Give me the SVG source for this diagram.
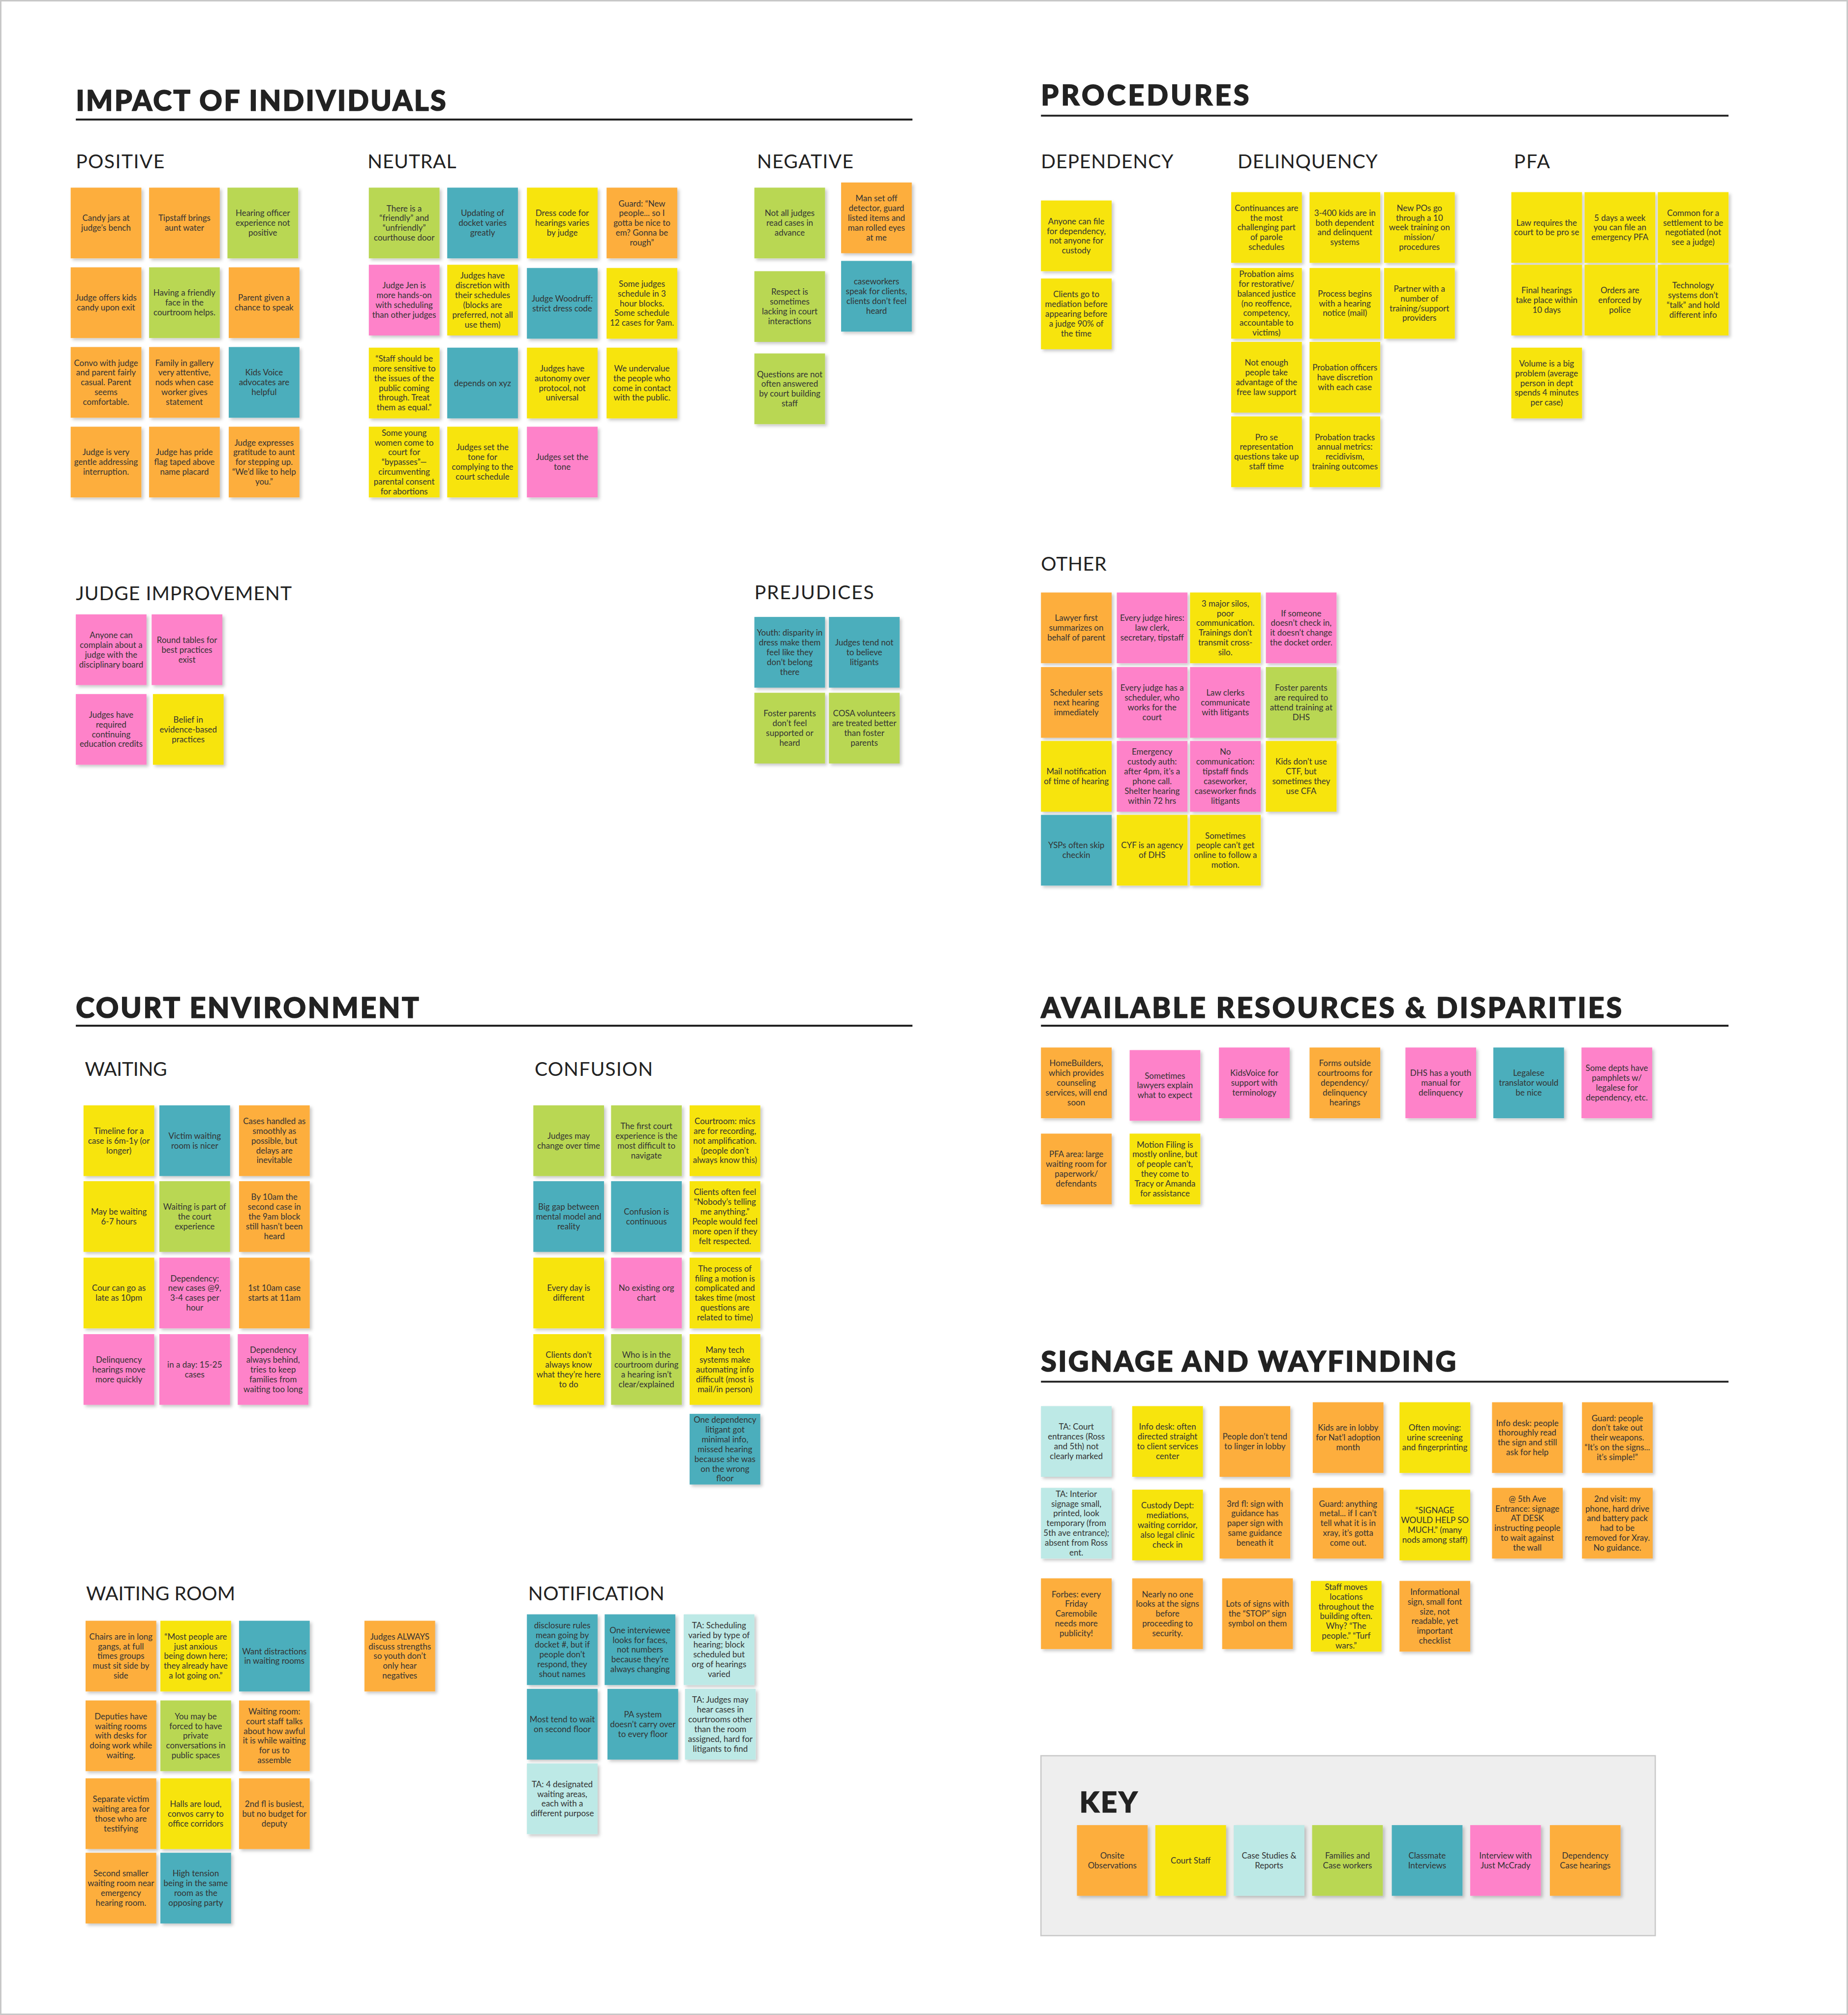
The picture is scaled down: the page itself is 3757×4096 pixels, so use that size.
<svg xmlns="http://www.w3.org/2000/svg" width="3757" height="4096" viewBox="0 0 3757 4096">
<defs>
<style>
.n{filter:url(#sh)}
.O{fill:#FDAE3E}.Y{fill:#F7E40A}.G{fill:#B9D752}.T{fill:#4BAEBC}.P{fill:#FE82C9}.C{fill:#BDE9E6}
.t{font-family:Lato,"Open Sans",sans-serif;font-size:6.5px;fill:#333;text-anchor:middle}
.h{font-family:Lato,sans-serif;font-weight:900;font-size:22px;fill:#222;stroke:#222;stroke-width:0.6}
.s{font-family:Lato,sans-serif;font-size:15px;fill:#222}
.u{stroke:#222;stroke-width:1.5}
</style>
<filter id="sh" x="-10%" y="-10%" width="130%" height="130%"><feDropShadow dx="1.5" dy="1.5" stdDeviation="1.2" flood-color="#000" flood-opacity="0.22"/></filter>
</defs>
<rect x="0" y="0" width="3757" height="4096" fill="#fff"/>
<rect x="1.5" y="1.5" width="3754" height="4093" fill="none" stroke="#c8c8c8" stroke-width="3"/>
<g transform="scale(2.6127)">
<g id="headings">
<text class="h" x="59" y="86" textLength="288">IMPACT OF INDIVIDUALS</text>
<line class="u" x1="59" y1="93" x2="710" y2="93"/>
<text class="h" x="810" y="82" textLength="162">PROCEDURES</text>
<line class="u" x1="810" y1="90" x2="1345" y2="90"/>
<text class="h" x="59" y="792" textLength="267">COURT ENVIRONMENT</text>
<line class="u" x1="59" y1="798" x2="710" y2="798"/>
<text class="h" x="810" y="792" textLength="452">AVAILABLE RESOURCES &amp; DISPARITIES</text>
<line class="u" x1="810" y1="798" x2="1345" y2="798"/>
<text class="h" x="810" y="1067" textLength="323">SIGNAGE AND WAYFINDING</text>
<line class="u" x1="810" y1="1075" x2="1345" y2="1075"/>
<text class="s" x="59" y="131" textLength="69">POSITIVE</text>
<text class="s" x="286" y="131" textLength="69">NEUTRAL</text>
<text class="s" x="589" y="131" textLength="75">NEGATIVE</text>
<text class="s" x="810" y="131" textLength="103">DEPENDENCY</text>
<text class="s" x="963" y="131" textLength="109">DELINQUENCY</text>
<text class="s" x="1178" y="131" textLength="28">PFA</text>
<text class="s" x="59" y="467" textLength="168">JUDGE IMPROVEMENT</text>
<text class="s" x="587" y="466" textLength="93">PREJUDICES</text>
<text class="s" x="810" y="444" textLength="51">OTHER</text>
<text class="s" x="66" y="837" textLength="64">WAITING</text>
<text class="s" x="416" y="837" textLength="92">CONFUSION</text>
<text class="s" x="67" y="1245" textLength="116">WAITING ROOM</text>
<text class="s" x="411" y="1245" textLength="106">NOTIFICATION</text>
</g>

<!-- POSITIVE -->
<g id="pos1" transform="translate(55,146)"><rect class="n O" width="55" height="55"/><text class="t"><tspan x="27.5" y="26">Candy jars at</tspan><tspan x="27.5" y="33.6">judge’s bench</tspan></text></g>
<g id="pos2" transform="translate(116,146)"><rect class="n O" width="55" height="55"/><text class="t"><tspan x="27.5" y="26">Tipstaff brings</tspan><tspan x="27.5" y="33.6">aunt water</tspan></text></g>
<g id="pos3" transform="translate(177,146)"><rect class="n G" width="55" height="55"/><text class="t"><tspan x="27.5" y="22.2">Hearing officer</tspan><tspan x="27.5" y="29.8">experience not</tspan><tspan x="27.5" y="37.4">positive</tspan></text></g>
<g id="pos4" transform="translate(55,208)"><rect class="n O" width="55" height="55"/><text class="t"><tspan x="27.5" y="26">Judge offers kids</tspan><tspan x="27.5" y="33.6">candy upon exit</tspan></text></g>
<g id="pos5" transform="translate(116,208)"><rect class="n G" width="55" height="55"/><text class="t"><tspan x="27.5" y="22.2">Having a friendly</tspan><tspan x="27.5" y="29.8">face in the</tspan><tspan x="27.5" y="37.4">courtroom helps.</tspan></text></g>
<g id="pos6" transform="translate(178,208)"><rect class="n O" width="55" height="55"/><text class="t"><tspan x="27.5" y="26">Parent given a</tspan><tspan x="27.5" y="33.6">chance to speak</tspan></text></g>
<g id="pos7" transform="translate(55,270)"><rect class="n O" width="55" height="55"/><text class="t"><tspan x="27.5" y="14.6">Convo with judge</tspan><tspan x="27.5" y="22.2">and parent fairly</tspan><tspan x="27.5" y="29.8">casual. Parent</tspan><tspan x="27.5" y="37.4">seems</tspan><tspan x="27.5" y="45">comfortable.</tspan></text></g>
<g id="pos8" transform="translate(116,270)"><rect class="n O" width="55" height="55"/><text class="t"><tspan x="27.5" y="14.6">Family in gallery</tspan><tspan x="27.5" y="22.2">very attentive,</tspan><tspan x="27.5" y="29.8">nods when case</tspan><tspan x="27.5" y="37.4">worker gives</tspan><tspan x="27.5" y="45">statement</tspan></text></g>
<g id="pos9" transform="translate(178,270)"><rect class="n T" width="55" height="55"/><text class="t"><tspan x="27.5" y="22.2">Kids Voice</tspan><tspan x="27.5" y="29.8">advocates are</tspan><tspan x="27.5" y="37.4">helpful</tspan></text></g>
<g id="pos10" transform="translate(55,332)"><rect class="n O" width="55" height="55"/><text class="t"><tspan x="27.5" y="22.2">Judge is very</tspan><tspan x="27.5" y="29.8">gentle addressing</tspan><tspan x="27.5" y="37.4">interruption.</tspan></text></g>
<g id="pos11" transform="translate(116,332)"><rect class="n O" width="55" height="55"/><text class="t"><tspan x="27.5" y="22.2">Judge has pride</tspan><tspan x="27.5" y="29.8">flag taped above</tspan><tspan x="27.5" y="37.4">name placard</tspan></text></g>
<g id="pos12" transform="translate(178,332)"><rect class="n O" width="55" height="55"/><text class="t"><tspan x="27.5" y="14.6">Judge expresses</tspan><tspan x="27.5" y="22.2">gratitude to aunt</tspan><tspan x="27.5" y="29.8">for stepping up.</tspan><tspan x="27.5" y="37.4">“We’d like to help</tspan><tspan x="27.5" y="45">you.”</tspan></text></g>

<!-- NEUTRAL -->
<g id="neu1" transform="translate(287,146)"><rect class="n G" width="55" height="55"/><text class="t"><tspan x="27.5" y="18.4">There is a</tspan><tspan x="27.5" y="26">“friendly” and</tspan><tspan x="27.5" y="33.6">“unfriendly”</tspan><tspan x="27.5" y="41.2">courthouse door</tspan></text></g>
<g id="neu2" transform="translate(348,146)"><rect class="n T" width="55" height="55"/><text class="t"><tspan x="27.5" y="22.2">Updating of</tspan><tspan x="27.5" y="29.8">docket varies</tspan><tspan x="27.5" y="37.4">greatly</tspan></text></g>
<g id="neu3" transform="translate(410,146)"><rect class="n Y" width="55" height="55"/><text class="t"><tspan x="27.5" y="22.2">Dress code for</tspan><tspan x="27.5" y="29.8">hearings varies</tspan><tspan x="27.5" y="37.4">by judge</tspan></text></g>
<g id="neu4" transform="translate(472,146)"><rect class="n O" width="55" height="55"/><text class="t"><tspan x="27.5" y="14.6">Guard: “New</tspan><tspan x="27.5" y="22.2">people... so I</tspan><tspan x="27.5" y="29.8">gotta be nice to</tspan><tspan x="27.5" y="37.4">em? Gonna be</tspan><tspan x="27.5" y="45">rough”</tspan></text></g>
<g id="neu5" transform="translate(287,206)"><rect class="n P" width="55" height="55"/><text class="t"><tspan x="27.5" y="18.4">Judge Jen is</tspan><tspan x="27.5" y="26">more hands-on</tspan><tspan x="27.5" y="33.6">with scheduling</tspan><tspan x="27.5" y="41.2">than other judges</tspan></text></g>
<g id="neu6" transform="translate(348,206)"><rect class="n Y" width="55" height="55"/><text class="t"><tspan x="27.5" y="10.8">Judges have</tspan><tspan x="27.5" y="18.4">discretion with</tspan><tspan x="27.5" y="26">their schedules</tspan><tspan x="27.5" y="33.6">(blocks are</tspan><tspan x="27.5" y="41.2">preferred, not all</tspan><tspan x="27.5" y="48.8">use them)</tspan></text></g>
<g id="neu7" transform="translate(410,208.5)"><rect class="n T" width="55" height="55"/><text class="t"><tspan x="27.5" y="26">Judge Woodruff:</tspan><tspan x="27.5" y="33.6">strict dress code</tspan></text></g>
<g id="neu8" transform="translate(472,208.5)"><rect class="n Y" width="55" height="55"/><text class="t"><tspan x="27.5" y="14.6">Some judges</tspan><tspan x="27.5" y="22.2">schedule in 3</tspan><tspan x="27.5" y="29.8">hour blocks.</tspan><tspan x="27.5" y="37.4">Some schedule</tspan><tspan x="27.5" y="45">12 cases for 9am.</tspan></text></g>
<g id="neu9" transform="translate(287,270.5)"><rect class="n Y" width="55" height="55"/><text class="t"><tspan x="27.5" y="10.8">“Staff should be</tspan><tspan x="27.5" y="18.4">more sensitive to</tspan><tspan x="27.5" y="26">the issues of the</tspan><tspan x="27.5" y="33.6">public coming</tspan><tspan x="27.5" y="41.2">through. Treat</tspan><tspan x="27.5" y="48.8">them as equal.”</tspan></text></g>
<g id="neu10" transform="translate(348,270.5)"><rect class="n T" width="55" height="55"/><text class="t"><tspan x="27.5" y="29.8">depends on xyz</tspan></text></g>
<g id="neu11" transform="translate(410,270.5)"><rect class="n Y" width="55" height="55"/><text class="t"><tspan x="27.5" y="18.4">Judges have</tspan><tspan x="27.5" y="26">autonomy over</tspan><tspan x="27.5" y="33.6">protocol, not</tspan><tspan x="27.5" y="41.2">universal</tspan></text></g>
<g id="neu12" transform="translate(472,270.5)"><rect class="n Y" width="55" height="55"/><text class="t"><tspan x="27.5" y="18.4">We undervalue</tspan><tspan x="27.5" y="26">the people who</tspan><tspan x="27.5" y="33.6">come in contact</tspan><tspan x="27.5" y="41.2">with the public.</tspan></text></g>
<g id="neu13" transform="translate(287,332)"><rect class="n Y" width="55" height="55"/><text class="t"><tspan x="27.5" y="7">Some young</tspan><tspan x="27.5" y="14.6">women come to</tspan><tspan x="27.5" y="22.2">court for</tspan><tspan x="27.5" y="29.8">“bypasses”—</tspan><tspan x="27.5" y="37.4">circumventing</tspan><tspan x="27.5" y="45">parental consent</tspan><tspan x="27.5" y="52.6">for abortions</tspan></text></g>
<g id="neu14" transform="translate(348,332)"><rect class="n Y" width="55" height="55"/><text class="t"><tspan x="27.5" y="18.4">Judges set the</tspan><tspan x="27.5" y="26">tone for</tspan><tspan x="27.5" y="33.6">complying to the</tspan><tspan x="27.5" y="41.2">court schedule</tspan></text></g>
<g id="neu15" transform="translate(410,332)"><rect class="n P" width="55" height="55"/><text class="t"><tspan x="27.5" y="26">Judges set the</tspan><tspan x="27.5" y="33.6">tone</tspan></text></g>

<!-- NEGATIVE -->
<g id="neg1" transform="translate(587,146)"><rect class="n G" width="55" height="55"/><text class="t"><tspan x="27.5" y="22.2">Not all judges</tspan><tspan x="27.5" y="29.8">read cases in</tspan><tspan x="27.5" y="37.4">advance</tspan></text></g>
<g id="neg2" transform="translate(587,211)"><rect class="n G" width="55" height="55"/><text class="t"><tspan x="27.5" y="18.4">Respect is</tspan><tspan x="27.5" y="26">sometimes</tspan><tspan x="27.5" y="33.6">lacking in court</tspan><tspan x="27.5" y="41.2">interactions</tspan></text></g>
<g id="neg3" transform="translate(587,275)"><rect class="n G" width="55" height="55"/><text class="t"><tspan x="27.5" y="18.4">Questions are not</tspan><tspan x="27.5" y="26">often answered</tspan><tspan x="27.5" y="33.6">by court building</tspan><tspan x="27.5" y="41.2">staff</tspan></text></g>
<g id="neg4" transform="translate(654.5,142)"><rect class="n O" width="55" height="55"/><text class="t"><tspan x="27.5" y="14.6">Man set off</tspan><tspan x="27.5" y="22.2">detector, guard</tspan><tspan x="27.5" y="29.8">listed items and</tspan><tspan x="27.5" y="37.4">man rolled eyes</tspan><tspan x="27.5" y="45">at me</tspan></text></g>
<g id="neg5" transform="translate(654.5,203)"><rect class="n T" width="55" height="55"/><text class="t"><tspan x="27.5" y="18.4">caseworkers</tspan><tspan x="27.5" y="26">speak for clients,</tspan><tspan x="27.5" y="33.6">clients don’t feel</tspan><tspan x="27.5" y="41.2">heard</tspan></text></g>

<!-- JUDGE IMPROVEMENT -->
<g id="ji1" transform="translate(59,478)"><rect class="n P" width="55" height="55"/><text class="t"><tspan x="27.5" y="18.4">Anyone can</tspan><tspan x="27.5" y="26">complain about a</tspan><tspan x="27.5" y="33.6">judge with the</tspan><tspan x="27.5" y="41.2">disciplinary board</tspan></text></g>
<g id="ji2" transform="translate(118,478)"><rect class="n P" width="55" height="55"/><text class="t"><tspan x="27.5" y="22.2">Round tables for</tspan><tspan x="27.5" y="29.8">best practices</tspan><tspan x="27.5" y="37.4">exist</tspan></text></g>
<g id="ji3" transform="translate(59,540)"><rect class="n P" width="55" height="55"/><text class="t"><tspan x="27.5" y="18.4">Judges have</tspan><tspan x="27.5" y="26">required</tspan><tspan x="27.5" y="33.6">continuing</tspan><tspan x="27.5" y="41.2">education credits</tspan></text></g>
<g id="ji4" transform="translate(119,540)"><rect class="n Y" width="55" height="55"/><text class="t"><tspan x="27.5" y="22.2">Belief in</tspan><tspan x="27.5" y="29.8">evidence-based</tspan><tspan x="27.5" y="37.4">practices</tspan></text></g>

<!-- PREJUDICES -->
<g id="pre1" transform="translate(587,480)"><rect class="n T" width="55" height="55"/><text class="t"><tspan x="27.5" y="14.6">Youth: disparity in</tspan><tspan x="27.5" y="22.2">dress make them</tspan><tspan x="27.5" y="29.8">feel like they</tspan><tspan x="27.5" y="37.4">don’t belong</tspan><tspan x="27.5" y="45">there</tspan></text></g>
<g id="pre2" transform="translate(645,480)"><rect class="n T" width="55" height="55"/><text class="t"><tspan x="27.5" y="22.2">Judges tend not</tspan><tspan x="27.5" y="29.8">to believe</tspan><tspan x="27.5" y="37.4">litigants</tspan></text></g>
<g id="pre3" transform="translate(587,539)"><rect class="n G" width="55" height="55"/><text class="t"><tspan x="27.5" y="18.4">Foster parents</tspan><tspan x="27.5" y="26">don’t feel</tspan><tspan x="27.5" y="33.6">supported or</tspan><tspan x="27.5" y="41.2">heard</tspan></text></g>
<g id="pre4" transform="translate(645,539)"><rect class="n G" width="55" height="55"/><text class="t"><tspan x="27.5" y="18.4">COSA volunteers</tspan><tspan x="27.5" y="26">are treated better</tspan><tspan x="27.5" y="33.6">than foster</tspan><tspan x="27.5" y="41.2">parents</tspan></text></g>

<!-- DEPENDENCY -->
<g id="dep1" transform="translate(810,156)"><rect class="n Y" width="55" height="55"/><text class="t"><tspan x="27.5" y="18.4">Anyone can file</tspan><tspan x="27.5" y="26">for dependency,</tspan><tspan x="27.5" y="33.6">not anyone for</tspan><tspan x="27.5" y="41.2">custody</tspan></text></g>
<g id="dep2" transform="translate(810,216.7)"><rect class="n Y" width="55" height="55"/><text class="t"><tspan x="27.5" y="14.6">Clients go to</tspan><tspan x="27.5" y="22.2">mediation before</tspan><tspan x="27.5" y="29.8">appearing before</tspan><tspan x="27.5" y="37.4">a judge 90% of</tspan><tspan x="27.5" y="45">the time</tspan></text></g>

<!-- DELINQUENCY -->
<g id="del1" transform="translate(958,149.5)"><rect class="n Y" width="55" height="55"/><text class="t"><tspan x="27.5" y="14.6">Continuances are</tspan><tspan x="27.5" y="22.2">the most</tspan><tspan x="27.5" y="29.8">challenging part</tspan><tspan x="27.5" y="37.4">of parole</tspan><tspan x="27.5" y="45">schedules</tspan></text></g>
<g id="del2" transform="translate(1019,149.5)"><rect class="n Y" width="55" height="55"/><text class="t"><tspan x="27.5" y="18.4">3-400 kids are in</tspan><tspan x="27.5" y="26">both dependent</tspan><tspan x="27.5" y="33.6">and delinquent</tspan><tspan x="27.5" y="41.2">systems</tspan></text></g>
<g id="del3" transform="translate(1077,149.5)"><rect class="n Y" width="55" height="55"/><text class="t"><tspan x="27.5" y="14.6">New POs go</tspan><tspan x="27.5" y="22.2">through a 10</tspan><tspan x="27.5" y="29.8">week training on</tspan><tspan x="27.5" y="37.4">mission/</tspan><tspan x="27.5" y="45">procedures</tspan></text></g>
<g id="del4" transform="translate(958,208.5)"><rect class="n Y" width="55" height="55"/><text class="t"><tspan x="27.5" y="7">Probation aims</tspan><tspan x="27.5" y="14.6">for restorative/</tspan><tspan x="27.5" y="22.2">balanced justice</tspan><tspan x="27.5" y="29.8">(no reoffence,</tspan><tspan x="27.5" y="37.4">competency,</tspan><tspan x="27.5" y="45">accountable to</tspan><tspan x="27.5" y="52.6">victims)</tspan></text></g>
<g id="del5" transform="translate(1019,208.5)"><rect class="n Y" width="55" height="55"/><text class="t"><tspan x="27.5" y="22.2">Process begins</tspan><tspan x="27.5" y="29.8">with a hearing</tspan><tspan x="27.5" y="37.4">notice (mail)</tspan></text></g>
<g id="del6" transform="translate(1077,208.5)"><rect class="n Y" width="55" height="55"/><text class="t"><tspan x="27.5" y="18.4">Partner with a</tspan><tspan x="27.5" y="26">number of</tspan><tspan x="27.5" y="33.6">training/support</tspan><tspan x="27.5" y="41.2">providers</tspan></text></g>
<g id="del7" transform="translate(958,266)"><rect class="n Y" width="55" height="55"/><text class="t"><tspan x="27.5" y="18.4">Not enough</tspan><tspan x="27.5" y="26">people take</tspan><tspan x="27.5" y="33.6">advantage of the</tspan><tspan x="27.5" y="41.2">free law support</tspan></text></g>
<g id="del8" transform="translate(1019,266)"><rect class="n Y" width="55" height="55"/><text class="t"><tspan x="27.5" y="22.2">Probation officers</tspan><tspan x="27.5" y="29.8">have discretion</tspan><tspan x="27.5" y="37.4">with each case</tspan></text></g>
<g id="del9" transform="translate(958,324)"><rect class="n Y" width="55" height="55"/><text class="t"><tspan x="27.5" y="18.4">Pro se</tspan><tspan x="27.5" y="26">representation</tspan><tspan x="27.5" y="33.6">questions take up</tspan><tspan x="27.5" y="41.2">staff time</tspan></text></g>
<g id="del10" transform="translate(1019,324)"><rect class="n Y" width="55" height="55"/><text class="t"><tspan x="27.5" y="18.4">Probation tracks</tspan><tspan x="27.5" y="26">annual metrics:</tspan><tspan x="27.5" y="33.6">recidivism,</tspan><tspan x="27.5" y="41.2">training outcomes</tspan></text></g>

<!-- PFA -->
<g id="pfa1" transform="translate(1176,149.5)"><rect class="n Y" width="55" height="55"/><text class="t"><tspan x="27.5" y="26">Law requires the</tspan><tspan x="27.5" y="33.6">court to be pro se</tspan></text></g>
<g id="pfa2" transform="translate(1233,149.5)"><rect class="n Y" width="55" height="55"/><text class="t"><tspan x="27.5" y="22.2">5 days a week</tspan><tspan x="27.5" y="29.8">you can file an</tspan><tspan x="27.5" y="37.4">emergency PFA</tspan></text></g>
<g id="pfa3" transform="translate(1290,149.5)"><rect class="n Y" width="55" height="55"/><text class="t"><tspan x="27.5" y="18.4">Common for a</tspan><tspan x="27.5" y="26">settlement to be</tspan><tspan x="27.5" y="33.6">negotiated (not</tspan><tspan x="27.5" y="41.2">see a judge)</tspan></text></g>
<g id="pfa4" transform="translate(1176,206)"><rect class="n Y" width="55" height="55"/><text class="t"><tspan x="27.5" y="22.2">Final hearings</tspan><tspan x="27.5" y="29.8">take place within</tspan><tspan x="27.5" y="37.4">10 days</tspan></text></g>
<g id="pfa5" transform="translate(1233,206)"><rect class="n Y" width="55" height="55"/><text class="t"><tspan x="27.5" y="22.2">Orders are</tspan><tspan x="27.5" y="29.8">enforced by</tspan><tspan x="27.5" y="37.4">police</tspan></text></g>
<g id="pfa6" transform="translate(1290,206)"><rect class="n Y" width="55" height="55"/><text class="t"><tspan x="27.5" y="18.4">Technology</tspan><tspan x="27.5" y="26">systems don’t</tspan><tspan x="27.5" y="33.6">“talk” and hold</tspan><tspan x="27.5" y="41.2">different info</tspan></text></g>
<g id="pfa7" transform="translate(1176,270.5)"><rect class="n Y" width="55" height="55"/><text class="t"><tspan x="27.5" y="14.6">Volume is a big</tspan><tspan x="27.5" y="22.2">problem (average</tspan><tspan x="27.5" y="29.8">person in dept</tspan><tspan x="27.5" y="37.4">spends 4 minutes</tspan><tspan x="27.5" y="45">per case)</tspan></text></g>

<!-- OTHER -->
<g id="oth1" transform="translate(810,461)"><rect class="n O" width="55" height="55"/><text class="t"><tspan x="27.5" y="22.2">Lawyer first</tspan><tspan x="27.5" y="29.8">summarizes on</tspan><tspan x="27.5" y="37.4">behalf of parent</tspan></text></g>
<g id="oth2" transform="translate(869,461)"><rect class="n P" width="55" height="55"/><text class="t"><tspan x="27.5" y="22.2">Every judge hires:</tspan><tspan x="27.5" y="29.8">law clerk,</tspan><tspan x="27.5" y="37.4">secretary, tipstaff</tspan></text></g>
<g id="oth3" transform="translate(926,461)"><rect class="n Y" width="55" height="55"/><text class="t"><tspan x="27.5" y="10.8">3 major silos,</tspan><tspan x="27.5" y="18.4">poor</tspan><tspan x="27.5" y="26">communication.</tspan><tspan x="27.5" y="33.6">Trainings don’t</tspan><tspan x="27.5" y="41.2">transmit cross-</tspan><tspan x="27.5" y="48.8">silo.</tspan></text></g>
<g id="oth4" transform="translate(985,461)"><rect class="n P" width="55" height="55"/><text class="t"><tspan x="27.5" y="18.4">If someone</tspan><tspan x="27.5" y="26">doesn’t check in,</tspan><tspan x="27.5" y="33.6">it doesn’t change</tspan><tspan x="27.5" y="41.2">the docket order.</tspan></text></g>
<g id="oth5" transform="translate(810,519)"><rect class="n O" width="55" height="55"/><text class="t"><tspan x="27.5" y="22.2">Scheduler sets</tspan><tspan x="27.5" y="29.8">next hearing</tspan><tspan x="27.5" y="37.4">immediately</tspan></text></g>
<g id="oth6" transform="translate(869,519)"><rect class="n P" width="55" height="55"/><text class="t"><tspan x="27.5" y="18.4">Every judge has a</tspan><tspan x="27.5" y="26">scheduler, who</tspan><tspan x="27.5" y="33.6">works for the</tspan><tspan x="27.5" y="41.2">court</tspan></text></g>
<g id="oth7" transform="translate(926,519)"><rect class="n P" width="55" height="55"/><text class="t"><tspan x="27.5" y="22.2">Law clerks</tspan><tspan x="27.5" y="29.8">communicate</tspan><tspan x="27.5" y="37.4">with litigants</tspan></text></g>
<g id="oth8" transform="translate(985,519)"><rect class="n G" width="55" height="55"/><text class="t"><tspan x="27.5" y="18.4">Foster parents</tspan><tspan x="27.5" y="26">are required to</tspan><tspan x="27.5" y="33.6">attend training at</tspan><tspan x="27.5" y="41.2">DHS</tspan></text></g>
<g id="oth9" transform="translate(810,576.5)"><rect class="n Y" width="55" height="55"/><text class="t"><tspan x="27.5" y="26">Mail notification</tspan><tspan x="27.5" y="33.6">of time of hearing</tspan></text></g>
<g id="oth10" transform="translate(869,576.5)"><rect class="n P" width="55" height="55"/><text class="t"><tspan x="27.5" y="10.8">Emergency</tspan><tspan x="27.5" y="18.4">custody auth:</tspan><tspan x="27.5" y="26">after 4pm, it’s a</tspan><tspan x="27.5" y="33.6">phone call.</tspan><tspan x="27.5" y="41.2">Shelter hearing</tspan><tspan x="27.5" y="48.8">within 72 hrs</tspan></text></g>
<g id="oth11" transform="translate(926,576.5)"><rect class="n P" width="55" height="55"/><text class="t"><tspan x="27.5" y="10.8">No</tspan><tspan x="27.5" y="18.4">communication:</tspan><tspan x="27.5" y="26">tipstaff finds</tspan><tspan x="27.5" y="33.6">caseworker,</tspan><tspan x="27.5" y="41.2">caseworker finds</tspan><tspan x="27.5" y="48.8">litigants</tspan></text></g>
<g id="oth12" transform="translate(985,576.5)"><rect class="n Y" width="55" height="55"/><text class="t"><tspan x="27.5" y="18.4">Kids don’t use</tspan><tspan x="27.5" y="26">CTF, but</tspan><tspan x="27.5" y="33.6">sometimes they</tspan><tspan x="27.5" y="41.2">use CFA</tspan></text></g>
<g id="oth13" transform="translate(810,634)"><rect class="n T" width="55" height="55"/><text class="t"><tspan x="27.5" y="26">YSPs often skip</tspan><tspan x="27.5" y="33.6">checkin</tspan></text></g>
<g id="oth14" transform="translate(869,634)"><rect class="n Y" width="55" height="55"/><text class="t"><tspan x="27.5" y="26">CYF is an agency</tspan><tspan x="27.5" y="33.6">of DHS</tspan></text></g>
<g id="oth15" transform="translate(926,634)"><rect class="n Y" width="55" height="55"/><text class="t"><tspan x="27.5" y="18.4">Sometimes</tspan><tspan x="27.5" y="26">people can’t get</tspan><tspan x="27.5" y="33.6">online to follow a</tspan><tspan x="27.5" y="41.2">motion.</tspan></text></g>

<!-- WAITING -->
<g id="wai1" transform="translate(65,860)"><rect class="n Y" width="55" height="55"/><text class="t"><tspan x="27.5" y="22.2">Timeline for a</tspan><tspan x="27.5" y="29.8">case is 6m-1y (or</tspan><tspan x="27.5" y="37.4">longer)</tspan></text></g>
<g id="wai2" transform="translate(124,860)"><rect class="n T" width="55" height="55"/><text class="t"><tspan x="27.5" y="26">Victim waiting</tspan><tspan x="27.5" y="33.6">room is nicer</tspan></text></g>
<g id="wai3" transform="translate(186,860)"><rect class="n O" width="55" height="55"/><text class="t"><tspan x="27.5" y="14.6">Cases handled as</tspan><tspan x="27.5" y="22.2">smoothly as</tspan><tspan x="27.5" y="29.8">possible, but</tspan><tspan x="27.5" y="37.4">delays are</tspan><tspan x="27.5" y="45">inevitable</tspan></text></g>
<g id="wai4" transform="translate(65,919)"><rect class="n Y" width="55" height="55"/><text class="t"><tspan x="27.5" y="26">May be waiting</tspan><tspan x="27.5" y="33.6">6-7 hours</tspan></text></g>
<g id="wai5" transform="translate(124,919)"><rect class="n G" width="55" height="55"/><text class="t"><tspan x="27.5" y="22.2">Waiting is part of</tspan><tspan x="27.5" y="29.8">the court</tspan><tspan x="27.5" y="37.4">experience</tspan></text></g>
<g id="wai6" transform="translate(186,919)"><rect class="n O" width="55" height="55"/><text class="t"><tspan x="27.5" y="14.6">By 10am the</tspan><tspan x="27.5" y="22.2">second case in</tspan><tspan x="27.5" y="29.8">the 9am block</tspan><tspan x="27.5" y="37.4">still hasn’t been</tspan><tspan x="27.5" y="45">heard</tspan></text></g>
<g id="wai7" transform="translate(65,978.5)"><rect class="n Y" width="55" height="55"/><text class="t"><tspan x="27.5" y="26">Cour can go as</tspan><tspan x="27.5" y="33.6">late as 10pm</tspan></text></g>
<g id="wai8" transform="translate(124,978.5)"><rect class="n P" width="55" height="55"/><text class="t"><tspan x="27.5" y="18.4">Dependency:</tspan><tspan x="27.5" y="26">new cases @9,</tspan><tspan x="27.5" y="33.6">3-4 cases per</tspan><tspan x="27.5" y="41.2">hour</tspan></text></g>
<g id="wai9" transform="translate(186,978.5)"><rect class="n O" width="55" height="55"/><text class="t"><tspan x="27.5" y="26">1st 10am case</tspan><tspan x="27.5" y="33.6">starts at 11am</tspan></text></g>
<g id="wai10" transform="translate(65,1038)"><rect class="n P" width="55" height="55"/><text class="t"><tspan x="27.5" y="22.2">Delinquency</tspan><tspan x="27.5" y="29.8">hearings move</tspan><tspan x="27.5" y="37.4">more quickly</tspan></text></g>
<g id="wai11" transform="translate(124,1038)"><rect class="n P" width="55" height="55"/><text class="t"><tspan x="27.5" y="26">in a day: 15-25</tspan><tspan x="27.5" y="33.6">cases</tspan></text></g>
<g id="wai12" transform="translate(185,1038)"><rect class="n P" width="55" height="55"/><text class="t"><tspan x="27.5" y="14.6">Dependency</tspan><tspan x="27.5" y="22.2">always behind,</tspan><tspan x="27.5" y="29.8">tries to keep</tspan><tspan x="27.5" y="37.4">families from</tspan><tspan x="27.5" y="45">waiting too long</tspan></text></g>

<!-- CONFUSION -->
<g id="con1" transform="translate(415,860)"><rect class="n G" width="55" height="55"/><text class="t"><tspan x="27.5" y="26">Judges may</tspan><tspan x="27.5" y="33.6">change over time</tspan></text></g>
<g id="con2" transform="translate(475.5,860)"><rect class="n G" width="55" height="55"/><text class="t"><tspan x="27.5" y="18.4">The first court</tspan><tspan x="27.5" y="26">experience is the</tspan><tspan x="27.5" y="33.6">most difficult to</tspan><tspan x="27.5" y="41.2">navigate</tspan></text></g>
<g id="con3" transform="translate(536.6,860)"><rect class="n Y" width="55" height="55"/><text class="t"><tspan x="27.5" y="14.6">Courtroom: mics</tspan><tspan x="27.5" y="22.2">are for recording,</tspan><tspan x="27.5" y="29.8">not amplification.</tspan><tspan x="27.5" y="37.4">(people don’t</tspan><tspan x="27.5" y="45">always know this)</tspan></text></g>
<g id="con4" transform="translate(415,919)"><rect class="n T" width="55" height="55"/><text class="t"><tspan x="27.5" y="22.2">Big gap between</tspan><tspan x="27.5" y="29.8">mental model and</tspan><tspan x="27.5" y="37.4">reality</tspan></text></g>
<g id="con5" transform="translate(475.5,919)"><rect class="n T" width="55" height="55"/><text class="t"><tspan x="27.5" y="26">Confusion is</tspan><tspan x="27.5" y="33.6">continuous</tspan></text></g>
<g id="con6" transform="translate(536.6,919)"><rect class="n Y" width="55" height="55"/><text class="t"><tspan x="27.5" y="10.8">Clients often feel</tspan><tspan x="27.5" y="18.4">“Nobody’s telling</tspan><tspan x="27.5" y="26">me anything.”</tspan><tspan x="27.5" y="33.6">People would feel</tspan><tspan x="27.5" y="41.2">more open if they</tspan><tspan x="27.5" y="48.8">felt respected.</tspan></text></g>
<g id="con7" transform="translate(415,978.5)"><rect class="n Y" width="55" height="55"/><text class="t"><tspan x="27.5" y="26">Every day is</tspan><tspan x="27.5" y="33.6">different</tspan></text></g>
<g id="con8" transform="translate(475.5,978.5)"><rect class="n P" width="55" height="55"/><text class="t"><tspan x="27.5" y="26">No existing org</tspan><tspan x="27.5" y="33.6">chart</tspan></text></g>
<g id="con9" transform="translate(536.6,978.5)"><rect class="n Y" width="55" height="55"/><text class="t"><tspan x="27.5" y="10.8">The process of</tspan><tspan x="27.5" y="18.4">filing a motion is</tspan><tspan x="27.5" y="26">complicated and</tspan><tspan x="27.5" y="33.6">takes time (most</tspan><tspan x="27.5" y="41.2">questions are</tspan><tspan x="27.5" y="48.8">related to time)</tspan></text></g>
<g id="con10" transform="translate(415,1038)"><rect class="n Y" width="55" height="55"/><text class="t"><tspan x="27.5" y="18.4">Clients don’t</tspan><tspan x="27.5" y="26">always know</tspan><tspan x="27.5" y="33.6">what they’re here</tspan><tspan x="27.5" y="41.2">to do</tspan></text></g>
<g id="con11" transform="translate(475.5,1038)"><rect class="n G" width="55" height="55"/><text class="t"><tspan x="27.5" y="18.4">Who is in the</tspan><tspan x="27.5" y="26">courtroom during</tspan><tspan x="27.5" y="33.6">a hearing isn’t</tspan><tspan x="27.5" y="41.2">clear/explained</tspan></text></g>
<g id="con12" transform="translate(536.6,1038)"><rect class="n Y" width="55" height="55"/><text class="t"><tspan x="27.5" y="14.6">Many tech</tspan><tspan x="27.5" y="22.2">systems make</tspan><tspan x="27.5" y="29.8">automating info</tspan><tspan x="27.5" y="37.4">difficult (most is</tspan><tspan x="27.5" y="45">mail/in person)</tspan></text></g>
<g id="con13" transform="translate(536.6,1100)"><rect class="n T" width="55" height="55"/><text class="t"><tspan x="27.5" y="7">One dependency</tspan><tspan x="27.5" y="14.6">litigant got</tspan><tspan x="27.5" y="22.2">minimal info,</tspan><tspan x="27.5" y="29.8">missed hearing</tspan><tspan x="27.5" y="37.4">because she was</tspan><tspan x="27.5" y="45">on the wrong</tspan><tspan x="27.5" y="52.6">floor</tspan></text></g>

<!-- WAITING ROOM -->
<g id="wr1" transform="translate(66.6,1261)"><rect class="n O" width="55" height="55"/><text class="t"><tspan x="27.5" y="14.6">Chairs are in long</tspan><tspan x="27.5" y="22.2">gangs, at full</tspan><tspan x="27.5" y="29.8">times groups</tspan><tspan x="27.5" y="37.4">must sit side by</tspan><tspan x="27.5" y="45">side</tspan></text></g>
<g id="wr2" transform="translate(124.8,1261)"><rect class="n Y" width="55" height="55"/><text class="t"><tspan x="27.5" y="14.6">“Most people are</tspan><tspan x="27.5" y="22.2">just anxious</tspan><tspan x="27.5" y="29.8">being down here;</tspan><tspan x="27.5" y="37.4">they already have</tspan><tspan x="27.5" y="45">a lot going on.”</tspan></text></g>
<g id="wr3" transform="translate(186,1261)"><rect class="n T" width="55" height="55"/><text class="t"><tspan x="27.5" y="26">Want distractions</tspan><tspan x="27.5" y="33.6">in waiting rooms</tspan></text></g>
<g id="wr4" transform="translate(283.6,1261)"><rect class="n O" width="55" height="55"/><text class="t"><tspan x="27.5" y="14.6">Judges ALWAYS</tspan><tspan x="27.5" y="22.2">discuss strengths</tspan><tspan x="27.5" y="29.8">so youth don’t</tspan><tspan x="27.5" y="37.4">only hear</tspan><tspan x="27.5" y="45">negatives</tspan></text></g>
<g id="wr5" transform="translate(66.6,1323)"><rect class="n O" width="55" height="55"/><text class="t"><tspan x="27.5" y="14.6">Deputies have</tspan><tspan x="27.5" y="22.2">waiting rooms</tspan><tspan x="27.5" y="29.8">with desks for</tspan><tspan x="27.5" y="37.4">doing work while</tspan><tspan x="27.5" y="45">waiting.</tspan></text></g>
<g id="wr6" transform="translate(124.8,1323)"><rect class="n G" width="55" height="55"/><text class="t"><tspan x="27.5" y="14.6">You may be</tspan><tspan x="27.5" y="22.2">forced to have</tspan><tspan x="27.5" y="29.8">private</tspan><tspan x="27.5" y="37.4">conversations in</tspan><tspan x="27.5" y="45">public spaces</tspan></text></g>
<g id="wr7" transform="translate(186,1323)"><rect class="n O" width="55" height="55"/><text class="t"><tspan x="27.5" y="10.8">Waiting room:</tspan><tspan x="27.5" y="18.4">court staff talks</tspan><tspan x="27.5" y="26">about how awful</tspan><tspan x="27.5" y="33.6">it is while waiting</tspan><tspan x="27.5" y="41.2">for us to</tspan><tspan x="27.5" y="48.8">assemble</tspan></text></g>
<g id="wr8" transform="translate(66.6,1383.6)"><rect class="n O" width="55" height="55"/><text class="t"><tspan x="27.5" y="18.4">Separate victim</tspan><tspan x="27.5" y="26">waiting area for</tspan><tspan x="27.5" y="33.6">those who are</tspan><tspan x="27.5" y="41.2">testifying</tspan></text></g>
<g id="wr9" transform="translate(124.8,1383.6)"><rect class="n Y" width="55" height="55"/><text class="t"><tspan x="27.5" y="22.2">Halls are loud,</tspan><tspan x="27.5" y="29.8">convos carry to</tspan><tspan x="27.5" y="37.4">office corridors</tspan></text></g>
<g id="wr10" transform="translate(186,1383.6)"><rect class="n O" width="55" height="55"/><text class="t"><tspan x="27.5" y="22.2">2nd fl is busiest,</tspan><tspan x="27.5" y="29.8">but no budget for</tspan><tspan x="27.5" y="37.4">deputy</tspan></text></g>
<g id="wr11" transform="translate(66.6,1441.5)"><rect class="n O" width="55" height="55"/><text class="t"><tspan x="27.5" y="18.4">Second smaller</tspan><tspan x="27.5" y="26">waiting room near</tspan><tspan x="27.5" y="33.6">emergency</tspan><tspan x="27.5" y="41.2">hearing room.</tspan></text></g>
<g id="wr12" transform="translate(124.8,1441.5)"><rect class="n T" width="55" height="55"/><text class="t"><tspan x="27.5" y="18.4">High tension</tspan><tspan x="27.5" y="26">being in the same</tspan><tspan x="27.5" y="33.6">room as the</tspan><tspan x="27.5" y="41.2">opposing party</tspan></text></g>

<!-- NOTIFICATION -->
<g id="not1" transform="translate(410,1256)"><rect class="n T" width="55" height="55"/><text class="t"><tspan x="27.5" y="10.8">disclosure rules</tspan><tspan x="27.5" y="18.4">mean going by</tspan><tspan x="27.5" y="26">docket #, but if</tspan><tspan x="27.5" y="33.6">people don’t</tspan><tspan x="27.5" y="41.2">respond, they</tspan><tspan x="27.5" y="48.8">shout names</tspan></text></g>
<g id="not2" transform="translate(470.5,1256)"><rect class="n T" width="55" height="55"/><text class="t"><tspan x="27.5" y="14.6">One interviewee</tspan><tspan x="27.5" y="22.2">looks for faces,</tspan><tspan x="27.5" y="29.8">not numbers</tspan><tspan x="27.5" y="37.4">because they’re</tspan><tspan x="27.5" y="45">always changing</tspan></text></g>
<g id="not3" transform="translate(532,1256)"><rect class="n C" width="55" height="55"/><text class="t"><tspan x="27.5" y="10.8">TA: Scheduling</tspan><tspan x="27.5" y="18.4">varied by type of</tspan><tspan x="27.5" y="26">hearing; block</tspan><tspan x="27.5" y="33.6">scheduled but</tspan><tspan x="27.5" y="41.2">org of hearings</tspan><tspan x="27.5" y="48.8">varied</tspan></text></g>
<g id="not4" transform="translate(410,1314)"><rect class="n T" width="55" height="55"/><text class="t"><tspan x="27.5" y="26">Most tend to wait</tspan><tspan x="27.5" y="33.6">on second floor</tspan></text></g>
<g id="not5" transform="translate(472.7,1314)"><rect class="n T" width="55" height="55"/><text class="t"><tspan x="27.5" y="22.2">PA system</tspan><tspan x="27.5" y="29.8">doesn’t carry over</tspan><tspan x="27.5" y="37.4">to every floor</tspan></text></g>
<g id="not6" transform="translate(533,1314)"><rect class="n C" width="55" height="55"/><text class="t"><tspan x="27.5" y="10.8">TA: Judges may</tspan><tspan x="27.5" y="18.4">hear cases in</tspan><tspan x="27.5" y="26">courtrooms other</tspan><tspan x="27.5" y="33.6">than the room</tspan><tspan x="27.5" y="41.2">assigned, hard for</tspan><tspan x="27.5" y="48.8">litigants to find</tspan></text></g>
<g id="not7" transform="translate(410,1372)"><rect class="n C" width="55" height="55"/><text class="t"><tspan x="27.5" y="18.4">TA: 4 designated</tspan><tspan x="27.5" y="26">waiting areas,</tspan><tspan x="27.5" y="33.6">each with a</tspan><tspan x="27.5" y="41.2">different purpose</tspan></text></g>

<!-- AVAILABLE RESOURCES -->
<g id="res1" transform="translate(810,815)"><rect class="n O" width="55" height="55"/><text class="t"><tspan x="27.5" y="14.6">HomeBuilders,</tspan><tspan x="27.5" y="22.2">which provides</tspan><tspan x="27.5" y="29.8">counseling</tspan><tspan x="27.5" y="37.4">services, will end</tspan><tspan x="27.5" y="45">soon</tspan></text></g>
<g id="res2" transform="translate(879,817)"><rect class="n P" width="55" height="55"/><text class="t"><tspan x="27.5" y="22.2">Sometimes</tspan><tspan x="27.5" y="29.8">lawyers explain</tspan><tspan x="27.5" y="37.4">what to expect</tspan></text></g>
<g id="res3" transform="translate(948.5,815)"><rect class="n P" width="55" height="55"/><text class="t"><tspan x="27.5" y="22.2">KidsVoice for</tspan><tspan x="27.5" y="29.8">support with</tspan><tspan x="27.5" y="37.4">terminology</tspan></text></g>
<g id="res4" transform="translate(1019,815)"><rect class="n O" width="55" height="55"/><text class="t"><tspan x="27.5" y="14.6">Forms outside</tspan><tspan x="27.5" y="22.2">courtrooms for</tspan><tspan x="27.5" y="29.8">dependency/</tspan><tspan x="27.5" y="37.4">delinquency</tspan><tspan x="27.5" y="45">hearings</tspan></text></g>
<g id="res5" transform="translate(1093.6,815)"><rect class="n P" width="55" height="55"/><text class="t"><tspan x="27.5" y="22.2">DHS has a youth</tspan><tspan x="27.5" y="29.8">manual for</tspan><tspan x="27.5" y="37.4">delinquency</tspan></text></g>
<g id="res6" transform="translate(1162,815)"><rect class="n T" width="55" height="55"/><text class="t"><tspan x="27.5" y="22.2">Legalese</tspan><tspan x="27.5" y="29.8">translator would</tspan><tspan x="27.5" y="37.4">be nice</tspan></text></g>
<g id="res7" transform="translate(1230.6,815)"><rect class="n P" width="55" height="55"/><text class="t"><tspan x="27.5" y="18.4">Some depts have</tspan><tspan x="27.5" y="26">pamphlets w/</tspan><tspan x="27.5" y="33.6">legalese for</tspan><tspan x="27.5" y="41.2">dependency, etc.</tspan></text></g>
<g id="res8" transform="translate(810,882)"><rect class="n O" width="55" height="55"/><text class="t"><tspan x="27.5" y="18.4">PFA area: large</tspan><tspan x="27.5" y="26">waiting room for</tspan><tspan x="27.5" y="33.6">paperwork/</tspan><tspan x="27.5" y="41.2">defendants</tspan></text></g>
<g id="res9" transform="translate(879,882)"><rect class="n Y" width="55" height="55"/><text class="t"><tspan x="27.5" y="10.8">Motion Filing is</tspan><tspan x="27.5" y="18.4">mostly online, but</tspan><tspan x="27.5" y="26">of people can’t,</tspan><tspan x="27.5" y="33.6">they come to</tspan><tspan x="27.5" y="41.2">Tracy or Amanda</tspan><tspan x="27.5" y="48.8">for assistance</tspan></text></g>

<!-- SIGNAGE -->
<g id="sig1" transform="translate(810,1094)"><rect class="n C" width="55" height="55"/><text class="t"><tspan x="27.5" y="18.4">TA: Court</tspan><tspan x="27.5" y="26">entrances (Ross</tspan><tspan x="27.5" y="33.6">and 5th) not</tspan><tspan x="27.5" y="41.2">clearly marked</tspan></text></g>
<g id="sig2" transform="translate(881,1094)"><rect class="n Y" width="55" height="55"/><text class="t"><tspan x="27.5" y="18.4">Info desk: often</tspan><tspan x="27.5" y="26">directed straight</tspan><tspan x="27.5" y="33.6">to client services</tspan><tspan x="27.5" y="41.2">center</tspan></text></g>
<g id="sig3" transform="translate(949,1094)"><rect class="n O" width="55" height="55"/><text class="t"><tspan x="27.5" y="26">People don’t tend</tspan><tspan x="27.5" y="33.6">to linger in lobby</tspan></text></g>
<g id="sig4" transform="translate(1021.5,1091)"><rect class="n O" width="55" height="55"/><text class="t"><tspan x="27.5" y="22.2">Kids are in lobby</tspan><tspan x="27.5" y="29.8">for Nat’l adoption</tspan><tspan x="27.5" y="37.4">month</tspan></text></g>
<g id="sig5" transform="translate(1089,1091)"><rect class="n Y" width="55" height="55"/><text class="t"><tspan x="27.5" y="22.2">Often moving:</tspan><tspan x="27.5" y="29.8">urine screening</tspan><tspan x="27.5" y="37.4">and fingerprinting</tspan></text></g>
<g id="sig6" transform="translate(1161,1091)"><rect class="n O" width="55" height="55"/><text class="t"><tspan x="27.5" y="18.4">Info desk: people</tspan><tspan x="27.5" y="26">thoroughly read</tspan><tspan x="27.5" y="33.6">the sign and still</tspan><tspan x="27.5" y="41.2">ask for help</tspan></text></g>
<g id="sig7" transform="translate(1231,1091)"><rect class="n O" width="55" height="55"/><text class="t"><tspan x="27.5" y="14.6">Guard: people</tspan><tspan x="27.5" y="22.2">don’t take out</tspan><tspan x="27.5" y="29.8">their weapons.</tspan><tspan x="27.5" y="37.4">“It’s on the signs...</tspan><tspan x="27.5" y="45">it’s simple!”</tspan></text></g>
<g id="sig8" transform="translate(810,1157.6)"><rect class="n C" width="55" height="55"/><text class="t"><tspan x="27.5" y="7">TA: Interior</tspan><tspan x="27.5" y="14.6">signage small,</tspan><tspan x="27.5" y="22.2">printed, look</tspan><tspan x="27.5" y="29.8">temporary (from</tspan><tspan x="27.5" y="37.4">5th ave entrance);</tspan><tspan x="27.5" y="45">absent from Ross</tspan><tspan x="27.5" y="52.6">ent.</tspan></text></g>
<g id="sig9" transform="translate(881,1159)"><rect class="n Y" width="55" height="55"/><text class="t"><tspan x="27.5" y="14.6">Custody Dept:</tspan><tspan x="27.5" y="22.2">mediations,</tspan><tspan x="27.5" y="29.8">waiting corridor,</tspan><tspan x="27.5" y="37.4">also legal clinic</tspan><tspan x="27.5" y="45">check in</tspan></text></g>
<g id="sig10" transform="translate(949,1157.6)"><rect class="n O" width="55" height="55"/><text class="t"><tspan x="27.5" y="14.6">3rd fl: sign with</tspan><tspan x="27.5" y="22.2">guidance has</tspan><tspan x="27.5" y="29.8">paper sign with</tspan><tspan x="27.5" y="37.4">same guidance</tspan><tspan x="27.5" y="45">beneath it</tspan></text></g>
<g id="sig11" transform="translate(1021.5,1157.6)"><rect class="n O" width="55" height="55"/><text class="t"><tspan x="27.5" y="14.6">Guard: anything</tspan><tspan x="27.5" y="22.2">metal... if I can’t</tspan><tspan x="27.5" y="29.8">tell what it is in</tspan><tspan x="27.5" y="37.4">xray, it’s gotta</tspan><tspan x="27.5" y="45">come out.</tspan></text></g>
<g id="sig12" transform="translate(1089,1159)"><rect class="n Y" width="55" height="55"/><text class="t"><tspan x="27.5" y="18.4">“SIGNAGE</tspan><tspan x="27.5" y="26">WOULD HELP SO</tspan><tspan x="27.5" y="33.6">MUCH.” (many</tspan><tspan x="27.5" y="41.2">nods among staff)</tspan></text></g>
<g id="sig13" transform="translate(1161,1157.6)"><rect class="n O" width="55" height="55"/><text class="t"><tspan x="27.5" y="10.8">@ 5th Ave</tspan><tspan x="27.5" y="18.4">Entrance: signage</tspan><tspan x="27.5" y="26">AT DESK</tspan><tspan x="27.5" y="33.6">instructing people</tspan><tspan x="27.5" y="41.2">to wait against</tspan><tspan x="27.5" y="48.8">the wall</tspan></text></g>
<g id="sig14" transform="translate(1231,1157.6)"><rect class="n O" width="55" height="55"/><text class="t"><tspan x="27.5" y="10.8">2nd visit: my</tspan><tspan x="27.5" y="18.4">phone, hard drive</tspan><tspan x="27.5" y="26">and battery pack</tspan><tspan x="27.5" y="33.6">had to be</tspan><tspan x="27.5" y="41.2">removed for Xray.</tspan><tspan x="27.5" y="48.8">No guidance.</tspan></text></g>
<g id="sig15" transform="translate(810,1228)"><rect class="n O" width="55" height="55"/><text class="t"><tspan x="27.5" y="14.6">Forbes: every</tspan><tspan x="27.5" y="22.2">Friday</tspan><tspan x="27.5" y="29.8">Caremobile</tspan><tspan x="27.5" y="37.4">needs more</tspan><tspan x="27.5" y="45">publicity!</tspan></text></g>
<g id="sig16" transform="translate(881,1228)"><rect class="n O" width="55" height="55"/><text class="t"><tspan x="27.5" y="14.6">Nearly no one</tspan><tspan x="27.5" y="22.2">looks at the signs</tspan><tspan x="27.5" y="29.8">before</tspan><tspan x="27.5" y="37.4">proceeding to</tspan><tspan x="27.5" y="45">security.</tspan></text></g>
<g id="sig17" transform="translate(951,1228)"><rect class="n O" width="55" height="55"/><text class="t"><tspan x="27.5" y="22.2">Lots of signs with</tspan><tspan x="27.5" y="29.8">the “STOP” sign</tspan><tspan x="27.5" y="37.4">symbol on them</tspan></text></g>
<g id="sig18" transform="translate(1020,1230)"><rect class="n Y" width="55" height="55"/><text class="t"><tspan x="27.5" y="7">Staff moves</tspan><tspan x="27.5" y="14.6">locations</tspan><tspan x="27.5" y="22.2">throughout the</tspan><tspan x="27.5" y="29.8">building often.</tspan><tspan x="27.5" y="37.4">Why? “The</tspan><tspan x="27.5" y="45">people.” “Turf</tspan><tspan x="27.5" y="52.6">wars.”</tspan></text></g>
<g id="sig19" transform="translate(1089,1230)"><rect class="n O" width="55" height="55"/><text class="t"><tspan x="27.5" y="10.8">Informational</tspan><tspan x="27.5" y="18.4">sign, small font</tspan><tspan x="27.5" y="26">size, not</tspan><tspan x="27.5" y="33.6">readable, yet</tspan><tspan x="27.5" y="41.2">important</tspan><tspan x="27.5" y="48.8">checklist</tspan></text></g>

<!-- KEY -->
<g id="key">
<rect x="810" y="1366" width="478" height="140" fill="#eeeeee" stroke="#c9c9c9" stroke-width="1"/>
<text class="h" x="840" y="1410" textLength="45">KEY</text>
<g id="key1" transform="translate(838,1420)"><rect class="n O" width="55" height="55"/><text class="t"><tspan x="27.5" y="26">Onsite</tspan><tspan x="27.5" y="33.6">Observations</tspan></text></g>
<g id="key2" transform="translate(899,1420)"><rect class="n Y" width="55" height="55"/><text class="t"><tspan x="27.5" y="29.8">Court Staff</tspan></text></g>
<g id="key3" transform="translate(960,1420)"><rect class="n C" width="55" height="55"/><text class="t"><tspan x="27.5" y="26">Case Studies &amp;</tspan><tspan x="27.5" y="33.6">Reports</tspan></text></g>
<g id="key4" transform="translate(1021,1420)"><rect class="n G" width="55" height="55"/><text class="t"><tspan x="27.5" y="26">Families and</tspan><tspan x="27.5" y="33.6">Case workers</tspan></text></g>
<g id="key5" transform="translate(1083,1420)"><rect class="n T" width="55" height="55"/><text class="t"><tspan x="27.5" y="26">Classmate</tspan><tspan x="27.5" y="33.6">Interviews</tspan></text></g>
<g id="key6" transform="translate(1144,1420)"><rect class="n P" width="55" height="55"/><text class="t"><tspan x="27.5" y="26">Interview with</tspan><tspan x="27.5" y="33.6">Just McCrady</tspan></text></g>
<g id="key7" transform="translate(1206,1420)"><rect class="n O" width="55" height="55"/><text class="t"><tspan x="27.5" y="26">Dependency</tspan><tspan x="27.5" y="33.6">Case hearings</tspan></text></g>
</g>
</g>
</svg>
